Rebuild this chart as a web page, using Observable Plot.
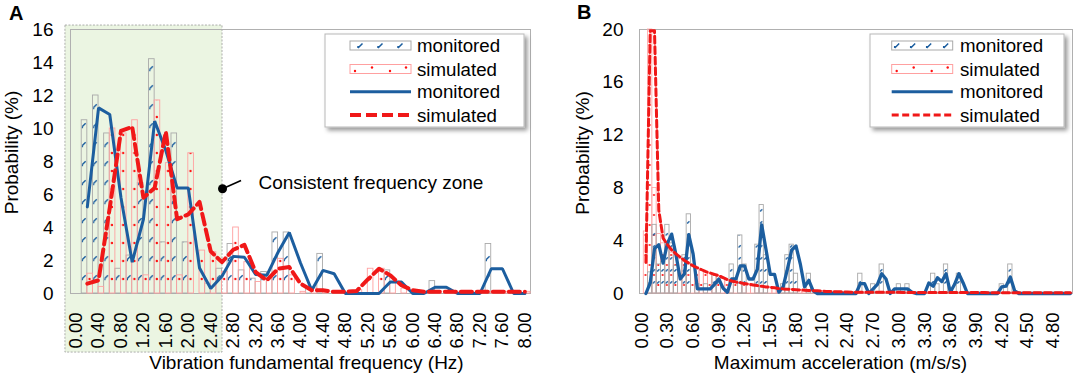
<!DOCTYPE html>
<html>
<head>
<meta charset="utf-8">
<script src="https://cdn.jsdelivr.net/npm/d3@7"></script>
<script src="https://cdn.jsdelivr.net/npm/@observablehq/plot@0.6"></script>
<style>
  html, body { margin: 0; padding: 0; background: #fff; }
  #wrap { position: relative; width: 1080px; height: 374px; overflow: hidden; background: #fff; }
  #wrap svg { position: absolute; top: 0; }
</style>
</head>
<body>
<div id="wrap"></div>
<script>
// ---------------- DATA ----------------
// Panel A: categories 0.00 .. 8.00 Hz, step 0.20
const freqA = d3.range(41).map(i => Math.round(i * 20) / 100);
const xTicksA = d3.range(21).map(i => Math.round(i * 40) / 100);
const yTicksA = [0, 2, 4, 6, 8, 10, 12, 14, 16];
const monBarA = [0, 10.5, 12.0, 9.7, 1.5, 2.3, 6.7, 14.2, 3.1, 9.7, 3.1, 0, 0.6, 1.5, 3.0, 1.4, 0.9, 1.3, 3.7, 3.7, 0, 0.4, 2.4, 0, 0, 0, 0, 0, 1.4, 0, 0, 0, 0.75, 0, 0, 0, 0, 3.0, 0, 0, 0];
const simBarA = [0, 1.2, 0.4, 10.0, 9.7, 10.5, 1.1, 11.7, 7.9, 1.1, 8.5, 2.6, 2.5, 1.3, 4.0, 1.9, 0.7, 0.9, 2.1, 1.1, 0.1, 0.3, 0.1, 0.1, 0.1, 0.2, 1.5, 1.5, 0.7, 0.3, 0.1, 0.1, 0.1, 0.1, 0.1, 0.1, 0.1, 0.1, 0.1, 0.1, 0.1];
const monLineA = [null, 5.25, 11.25, 10.85, 5.8, 1.9, 4.5, 10.45, 8.65, 6.4, 6.4, 1.55, 0.3, 1.05, 2.25, 2.2, 1.15, 1.1, 2.5, 3.7, 1.85, 0.2, 1.4, 1.2, 0, 0, 0, 0, 0.7, 0.7, 0, 0, 0.38, 0.38, 0, 0, 0, 1.5, 1.5, 0, 0];
const simLineA = [null, 0.6, 0.8, 5.2, 9.85, 10.1, 5.8, 6.4, 9.8, 4.5, 4.8, 5.55, 2.55, 1.9, 2.65, 2.95, 1.3, 0.8, 1.5, 1.6, 0.6, 0.2, 0.2, 0.1, 0.1, 0.15, 0.85, 1.5, 1.1, 0.5, 0.2, 0.1, 0.1, 0.1, 0.1, 0.1, 0.1, 0.1, 0.1, 0.1, 0.1];
const zoneA = [{x1: -0.19, x2: 2.61, y1: -3.58, y2: 16.24}];
const annotA = [{x: 2.61, y: 6.35, x2: 2.94, y2: 6.85, tx: 3.25, ty: 6.73, label: "Consistent frequency zone"}];

// Panel B: categories 0.00 .. 5.00 m/s/s, step 0.05
const accB = d3.range(101).map(i => Math.round(i * 5) / 100);
const xTicksB = d3.range(17).map(i => Math.round(i * 30) / 100);
const yTicksB = [0, 4, 8, 12, 16, 20];
const monBarB = [0,
  0, 1.6, 5.2, 2.2, 2.4, 5.2, 3.8, 2.1, 0, 2.9,
  6.0, 0, 0.7, 0, 0.7, 0, 1.4, 0.8, 0, 0,
  2.2, 0, 4.4, 2.2, 0, 0, 3.7, 6.7, 2.9, 0,
  0, 0, 0.7, 2.9, 3.7, 1.5, 0, 0, 1.5, 0,
  0, 0, 0, 0, 0, 0, 0, 0, 0, 0,
  1.5, 0, 0, 0.7, 0, 2.2, 0, 0, 0, 0.7,
  0, 0.7, 0, 0, 0, 0, 0, 1.5, 0.7, 0,
  2.2, 0, 0, 1.5, 0, 0, 0, 0, 0, 0,
  0, 0, 0, 0.7, 0, 2.2, 0, 0, 0, 0,
  0, 0, 0, 0, 0, 0, 0, 0, 0, 0];
const simBarB = [0,
  4.7, 20, 8.0, 4.5, 3.8, 3.5, 3.1, 2.9, 2.6, 2.4,
  2.2, 2.0, 1.9, 1.7, 1.6, 1.5, 1.4, 1.3, 1.1, 1.0,
  0.9, 0.85, 0.8, 0.7, 0.7, 0.6, 0.6, 0.5, 0.5, 0.45,
  0.4, 0.36, 0.34, 0.32, 0.3, 0.28, 0.26, 0.24, 0.22, 0.2,
  0.19, 0.18, 0.16, 0.15, 0.14, 0.13, 0.12, 0.11, 0.1, 0.1,
  0.09, 0.09, 0.09, 0.09, 0.09, 0.09, 0.09, 0.09, 0.09, 0.09,
  0.08, 0.08, 0.08, 0.08, 0.08, 0.08, 0.08, 0.08, 0.08, 0.08,
  0.07, 0.07, 0.07, 0.07, 0.07, 0.07, 0.07, 0.07, 0.07, 0.07,
  0.06, 0.06, 0.06, 0.06, 0.06, 0.06, 0.06, 0.06, 0.06, 0.06,
  0.05, 0.05, 0.05, 0.05, 0.05, 0.05, 0.05, 0.05, 0.05, 0.05];
const monLineB = [null,
  0, 0.8, 3.4, 3.7, 2.3, 3.8, 4.5, 2.95, 1.1, 1.5,
  4.45, 3.0, 0.35, 0.35, 0.35, 0.35, 0.7, 1.1, 0.4, 0.1,
  1.1, 1.1, 2.1, 2.1, 1.1, 1.1, 1.85, 5.2, 3.35, 1.45,
  1.45, 0.1, 0.5, 1.85, 3.3, 3.6, 2.25, 0.5, 1.0, 0.2,
  0, 0, 0, 0, 0, 0, 0, 0, 0, 0,
  0.75, 0.75, 0, 0.35, 0.7, 1.5, 1.1, 0, 0.35, 0.35,
  0.35, 0.35, 0.1, 0, 0, 0, 0.8, 0.55, 1.2, 0.9,
  1.5, 0.1, 0.7, 1.5, 0.8, 0, 0, 0, 0, 0,
  0, 0, 0, 0.5, 0.55, 1.25, 0.2, 0, 0, 0,
  0, 0, 0, 0, 0, 0, 0, 0, 0, 0];
const simLineB = [null,
  2.35, 19.9, 19.9, 6.3, 4.2, 3.7, 3.3, 3.0, 2.75, 2.5,
  2.3, 2.1, 1.95, 1.8, 1.65, 1.55, 1.45, 1.35, 1.2, 1.05,
  0.95, 0.87, 0.82, 0.75, 0.7, 0.65, 0.6, 0.55, 0.5, 0.47,
  0.43, 0.38, 0.35, 0.33, 0.31, 0.29, 0.27, 0.25, 0.23, 0.21,
  0.2, 0.18, 0.16, 0.15, 0.14, 0.13, 0.12, 0.11, 0.1, 0.1,
  0.09, 0.09, 0.09, 0.09, 0.09, 0.09, 0.09, 0.09, 0.09, 0.09,
  0.08, 0.08, 0.08, 0.08, 0.08, 0.08, 0.08, 0.08, 0.08, 0.08,
  0.07, 0.07, 0.07, 0.07, 0.07, 0.07, 0.07, 0.07, 0.07, 0.07,
  0.06, 0.06, 0.06, 0.06, 0.06, 0.06, 0.06, 0.06, 0.06, 0.06,
  0.05, 0.05, 0.05, 0.05, 0.05, 0.05, 0.05, 0.05, 0.05, 0.05];

const legendLabels = ["monitored", "simulated", "monitored", "simulated"];
const xTitleA = "Vibration fundamental frequency (Hz)";
const xTitleB = "Maximum acceleration (m/s/s)";
const yTitle = "Probability (%)";
const panelLetters = ["A", "B"];

// ---------------- STYLE ----------------
const FONT = "'Liberation Sans', Arial, Helvetica, sans-serif";
const BLUE = "#1c5e9f", RED = "#f01818", GREY = "#a9a9a9", PINK = "#ffa0a0";

const rowsA = freqA.map((f, i) => ({f, mon: monBarA[i], sim: simBarA[i], ml: monLineA[i], sl: simLineA[i]}));
const rowsB = accB.map((f, i) => ({f, mon: monBarB[i], sim: simBarB[i], ml: monLineB[i], sl: simLineB[i]}));

const wrap = document.getElementById("wrap");

// ---------------- PANEL A ----------------
const mA = {l: 70, r: 10, t: 29, b: 81};
const bandA = (540 - mA.l - mA.r) / freqA.length;
const hA = 0.1;
const plotA = Plot.plot({
  width: 540, height: 374,
  marginLeft: mA.l, marginRight: mA.r, marginTop: mA.t, marginBottom: mA.b,
  style: {fontFamily: FONT, fontSize: "19px", color: "#000", background: "transparent", overflow: "visible"},
  x: {type: "linear", domain: [freqA[0] - hA, freqA[freqA.length - 1] + hA]},
  y: {type: "linear", domain: [0, 16]},
  marks: [
    Plot.rect(zoneA, {x1: "x1", x2: "x2", y1: "y1", y2: "y2", fill: "#ebf5e2", stroke: "#9a9a9a", strokeWidth: 0.8, strokeDasharray: "2,1.5"}),
    Plot.frame({stroke: "#b0b0b0"}),
    Plot.rect(rowsA.filter(d => d.mon > 0), {x1: d => d.f - hA, x2: d => d.f, y1: 0, y2: "mon", fill: "url(#pAmon)", stroke: GREY, strokeWidth: 0.9}),
    Plot.rect(rowsA.filter(d => d.sim > 0), {x1: d => d.f, x2: d => d.f + hA, y1: 0, y2: "sim", fill: "url(#pAsim)", stroke: PINK, strokeWidth: 0.9}),
    Plot.line(rowsA, {x: "f", y: "ml", stroke: BLUE, strokeWidth: 3, strokeLinejoin: "miter"}),
    Plot.line(rowsA, {x: "f", y: "sl", stroke: RED, strokeWidth: 4, strokeDasharray: "11,5"}),
    Plot.axisY({ticks: yTicksA, tickSize: 0, tickPadding: 17, fontSize: 19, label: null}),
    Plot.axisX({ticks: xTicksA, tickFormat: d => d.toFixed(2), tickRotate: -90, tickSize: 0, tickPadding: 19, fontSize: 18.5, label: null}),
    Plot.text([xTitleA], {frameAnchor: "bottom", dy: 69, dx: 6, lineAnchor: "middle", fontSize: 19}),
    Plot.text([yTitle], {frameAnchor: "left", rotate: -90, dx: -59, dy: -9, textAnchor: "middle", lineAnchor: "middle", fontSize: 19}),
    Plot.link(annotA, {x1: "x", y1: "y", x2: "x2", y2: "y2", stroke: "#000", strokeWidth: 1.6}),
    Plot.dot(annotA, {x: "x", y: "y", r: 4.5, fill: "#000", stroke: null}),
    Plot.text(annotA, {x: "tx", y: "ty", text: "label", textAnchor: "start", lineAnchor: "middle", fontSize: 19})
  ]
});
d3.select(plotA).insert("defs", ":first-child").html(`
  <pattern id="pAmon" patternUnits="userSpaceOnUse" x="${mA.l}" y="0" width="${bandA}" height="19">
    <path d="M1.2,12.5 L4.4,9.3 M1.2,12.5 L1.2,14.2" stroke="${BLUE}" stroke-width="1.4" fill="none"/>
  </pattern>
  <pattern id="pAsim" patternUnits="userSpaceOnUse" x="${mA.l}" y="0" width="${bandA}" height="18">
    <circle cx="${bandA * 0.74}" cy="9" r="1.2" fill="#ff1010"/>
  </pattern>`);
plotA.style.left = "0px";
wrap.appendChild(plotA);

// ---------------- PANEL B ----------------
const mB = {l: 99, r: 8, t: 29, b: 81};
const bandB = (540 - mB.l - mB.r) / accB.length;
const hB = 0.025;
const plotB = Plot.plot({
  width: 540, height: 374,
  marginLeft: mB.l, marginRight: mB.r, marginTop: mB.t, marginBottom: mB.b,
  style: {fontFamily: FONT, fontSize: "19px", color: "#000", background: "transparent", overflow: "visible"},
  x: {type: "linear", domain: [accB[0] - hB, accB[accB.length - 1] + hB]},
  y: {type: "linear", domain: [0, 20]},
  marks: [
    Plot.frame({stroke: "#b0b0b0"}),
    Plot.rect(rowsB.filter(d => d.sim > 0), {x1: d => d.f - hB, x2: d => d.f + hB, y1: 0, y2: "sim", fill: "url(#pBsim)", stroke: PINK, strokeWidth: 0.8}),
    Plot.rect(rowsB.filter(d => d.mon > 0), {x1: d => d.f - hB, x2: d => d.f + hB, y1: 0, y2: "mon", fill: "url(#pBmon)", stroke: GREY, strokeWidth: 0.9}),
    Plot.line(rowsB, {x: "f", y: "ml", stroke: BLUE, strokeWidth: 3.3, strokeLinejoin: "round"}),
    Plot.line(rowsB, {x: "f", y: "sl", stroke: RED, strokeWidth: 3, strokeDasharray: "7,3.5"}),
    Plot.axisY({ticks: yTicksB, tickSize: 0, tickPadding: 16, fontSize: 19, label: null}),
    Plot.axisX({ticks: xTicksB, tickFormat: d => d.toFixed(2), tickRotate: -90, tickSize: 0, tickPadding: 19, fontSize: 18.5, label: null}),
    Plot.text([xTitleB], {frameAnchor: "bottom", dy: 69, dx: -15.5, lineAnchor: "middle", fontSize: 19}),
    Plot.text([yTitle], {frameAnchor: "left", rotate: -90, dx: -56.5, dy: -8.5, textAnchor: "middle", lineAnchor: "middle", fontSize: 19})
  ]
});
d3.select(plotB).insert("defs", ":first-child").html(`
  <pattern id="pBmon" patternUnits="userSpaceOnUse" x="${mB.l}" y="0" width="${bandB}" height="12">
    <path d="M1,7.5 L3.2,5.3" stroke="${BLUE}" stroke-width="1.4" fill="none"/>
  </pattern>
  <pattern id="pBsim" patternUnits="userSpaceOnUse" x="${mB.l}" y="0" width="${bandB * 2}" height="20">
    <circle cx="${bandB * 0.5}" cy="5" r="1.1" fill="#ff1010"/>
    <circle cx="${bandB * 1.5}" cy="15" r="1.1" fill="#ff1010"/>
  </pattern>`);
plotB.style.left = "540px";
wrap.appendChild(plotB);

// ---------------- OVERLAY: legends + panel letters ----------------
const ov = d3.select(wrap).append("svg")
  .attr("width", 1080).attr("height", 374)
  .style("left", "0px").style("pointer-events", "none")
  .style("font-family", FONT);
ov.append("defs").html(`<filter id="lsh" x="-10%" y="-10%" width="130%" height="140%">
  <feDropShadow dx="3" dy="3" stdDeviation="2" flood-color="#000" flood-opacity="0.4"/></filter>`);

function drawLegend(bx, by, bw, bh, sx, tx, dash, dashW, marks) {
  const L = ov.append("g").attr("transform", `translate(${bx},${by})`);
  L.append("rect").attr("width", bw).attr("height", bh).attr("fill", "#fff")
    .attr("stroke", "#b8b8b8").attr("filter", "url(#lsh)");
  const sw = 61;
  L.append("rect").attr("x", sx).attr("y", 7).attr("width", sw).attr("height", 9)
    .attr("fill", "#fff").attr("stroke", GREY);
  marks.forEach(o => L.append("path")
    .attr("d", `M${sx + o},14 L${sx + o + 4.5},9.5 M${sx + o},14 L${sx + o},12`)
    .attr("stroke", BLUE).attr("stroke-width", 1.5).attr("fill", "none"));
  L.append("rect").attr("x", sx).attr("y", 30.5).attr("width", sw).attr("height", 9)
    .attr("fill", "#fff").attr("stroke", PINK);
  [[5, 37], [22, 33.5], [40, 37], [56, 33.5]].forEach(([o, y]) =>
    L.append("circle").attr("cx", sx + o).attr("cy", y).attr("r", 1.2).attr("fill", "#ff1010"));
  L.append("line").attr("x1", sx).attr("x2", sx + sw).attr("y1", 57.7).attr("y2", 57.7)
    .attr("stroke", BLUE).attr("stroke-width", 3);
  L.append("line").attr("x1", sx).attr("x2", sx + sw).attr("y1", 81).attr("y2", 81)
    .attr("stroke", RED).attr("stroke-width", dashW).attr("stroke-dasharray", dash);
  [11.7, 35, 57.7, 81].forEach((y, i) => L.append("text")
    .attr("x", tx).attr("y", y).attr("dominant-baseline", "central")
    .attr("font-size", 18.7).attr("fill", "#000").text(legendLabels[i]));
}
drawLegend(325, 34, 199, 93, 25, 92, "11,5", 4, [8, 28, 48]);
drawLegend(870, 34, 194, 93, 21.7, 90, "7,3.5", 3, [3, 19, 35, 52]);

ov.append("text").attr("x", 9).attr("y", 20).attr("font-size", 20).attr("font-weight", "bold").text(panelLetters[0]);
ov.append("text").attr("x", 577).attr("y", 19).attr("font-size", 20).attr("font-weight", "bold").text(panelLetters[1]);
</script>
</body>
</html>
